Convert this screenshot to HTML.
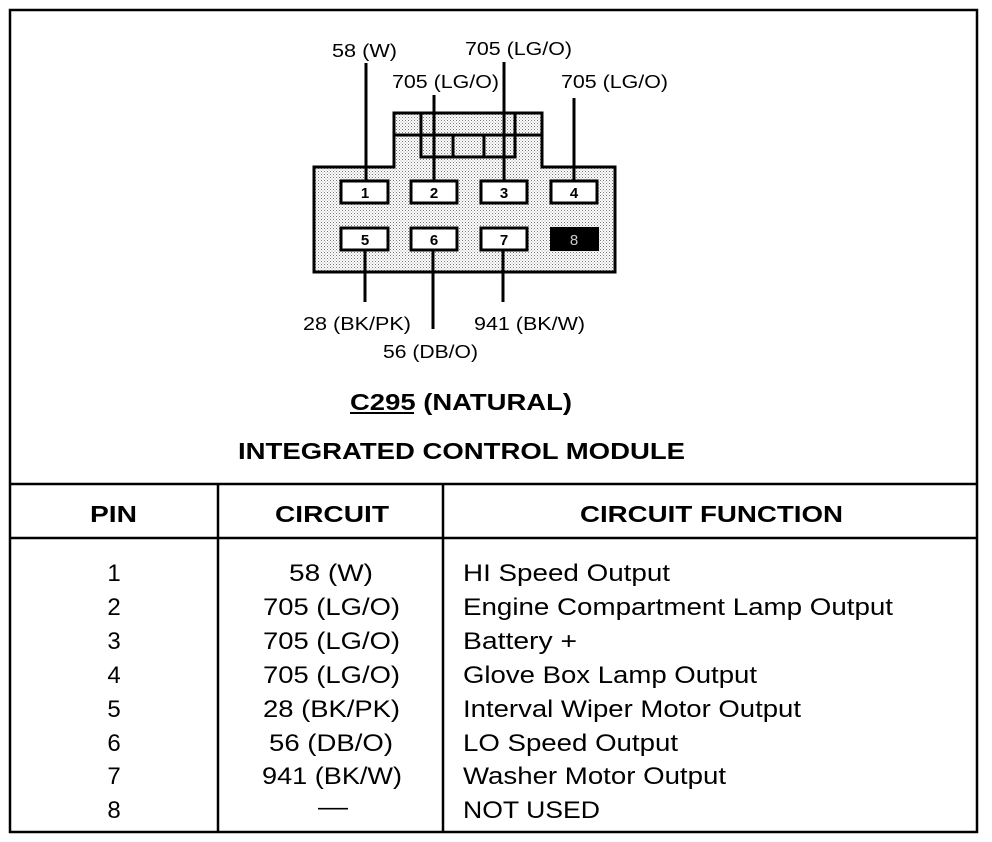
<!DOCTYPE html>
<html><head><meta charset="utf-8"><style>
html,body{margin:0;padding:0;background:#fff}
svg{display:block}
text{font-family:"Liberation Sans",Arial,sans-serif;fill:#000}
</style></head><body>
<svg width="992" height="842" viewBox="0 0 992 842" xmlns="http://www.w3.org/2000/svg">
<defs>
<pattern id="dots" width="3" height="3" patternUnits="userSpaceOnUse">
<rect width="3" height="3" fill="#fff"/><rect width="1" height="1" fill="#777"/><rect x="1.5" y="1.5" width="1" height="1" fill="#999"/>
</pattern>
</defs>
<rect x="10" y="10" width="967" height="822" fill="none" stroke="#000" stroke-width="2.5"/>
<path d="M314,167 H394 V113 H542 V167 H615 V272 H314 Z" fill="url(#dots)" stroke="#000" stroke-width="3"/>
<line x1="394" y1="135" x2="542" y2="135" stroke="#000" stroke-width="3"/>
<rect x="421" y="135" width="94" height="22" fill="url(#dots)" stroke="#000" stroke-width="3"/>
<line x1="421" y1="113" x2="421" y2="135" stroke="#000" stroke-width="3"/>
<line x1="515" y1="113" x2="515" y2="135" stroke="#000" stroke-width="3"/>
<line x1="453" y1="135" x2="453" y2="157" stroke="#000" stroke-width="3"/>
<line x1="484" y1="135" x2="484" y2="157" stroke="#000" stroke-width="3"/>
<g stroke="#000" stroke-width="3" fill="#fff">
<rect x="341" y="181" width="47" height="22"/><rect x="411" y="181" width="46" height="22"/><rect x="481" y="181" width="46" height="22"/><rect x="551" y="181" width="46" height="22"/>
<rect x="341" y="228" width="47" height="22"/><rect x="411" y="228" width="46" height="22"/><rect x="481" y="228" width="46" height="22"/>
</g>
<rect x="550" y="227" width="49" height="24" fill="#000"/>
<g stroke="#000" stroke-width="3">
<line x1="366" y1="63" x2="366" y2="180"/><line x1="434" y1="95" x2="434" y2="180"/><line x1="504" y1="62" x2="504" y2="180"/><line x1="574" y1="98" x2="574" y2="180"/>
<line x1="365" y1="251" x2="365" y2="302"/><line x1="433" y1="251" x2="433" y2="329"/><line x1="503" y1="251" x2="503" y2="302"/>
</g>
<g font-size="15" text-anchor="middle" font-weight="bold">
<text x="365" y="198">1</text><text x="434" y="198">2</text><text x="504" y="198">3</text><text x="574" y="198">4</text>
<text x="365" y="245">5</text><text x="434" y="245">6</text><text x="504" y="245">7</text><text x="574" y="245" style="fill:#ccc" font-weight="normal">8</text>
</g>
<g font-size="18">
<text x="332" y="57" textLength="65" lengthAdjust="spacingAndGlyphs">58 (W)</text>
<text x="465" y="55" textLength="107" lengthAdjust="spacingAndGlyphs">705 (LG/O)</text>
<text x="392" y="88" textLength="107" lengthAdjust="spacingAndGlyphs">705 (LG/O)</text>
<text x="561" y="88" textLength="107" lengthAdjust="spacingAndGlyphs">705 (LG/O)</text>
<text x="303" y="330" textLength="108" lengthAdjust="spacingAndGlyphs">28 (BK/PK)</text>
<text x="474" y="330" textLength="111" lengthAdjust="spacingAndGlyphs">941 (BK/W)</text>
<text x="383" y="358" textLength="95" lengthAdjust="spacingAndGlyphs">56 (DB/O)</text>
</g>
<g font-size="23" font-weight="bold">
<text x="350" y="410" textLength="222" lengthAdjust="spacingAndGlyphs">C295 (NATURAL)</text>
<line x1="350" y1="413" x2="414" y2="413" stroke="#000" stroke-width="2"/>
<text x="238" y="459" textLength="447" lengthAdjust="spacingAndGlyphs">INTEGRATED CONTROL MODULE</text>
<text x="90" y="522" textLength="47" lengthAdjust="spacingAndGlyphs">PIN</text>
<text x="275" y="522" textLength="114" lengthAdjust="spacingAndGlyphs">CIRCUIT</text>
<text x="580" y="522" textLength="263" lengthAdjust="spacingAndGlyphs">CIRCUIT FUNCTION</text>
</g>
<g stroke="#000" stroke-width="2.5">
<line x1="10" y1="484" x2="977" y2="484"/>
<line x1="10" y1="538" x2="977" y2="538"/>
<line x1="218" y1="484" x2="218" y2="832"/>
<line x1="443" y1="484" x2="443" y2="832"/>
</g>
<g font-size="24">
<g text-anchor="middle">
<text x="114" y="581">1</text><text x="114" y="615">2</text><text x="114" y="649">3</text><text x="114" y="683">4</text><text x="114" y="717">5</text><text x="114" y="751">6</text><text x="114" y="784">7</text><text x="114" y="818">8</text>
</g>
<text x="289" y="581" textLength="84" lengthAdjust="spacingAndGlyphs">58 (W)</text>
<text x="263" y="615" textLength="137" lengthAdjust="spacingAndGlyphs">705 (LG/O)</text>
<text x="263" y="649" textLength="137" lengthAdjust="spacingAndGlyphs">705 (LG/O)</text>
<text x="263" y="683" textLength="137" lengthAdjust="spacingAndGlyphs">705 (LG/O)</text>
<text x="263" y="717" textLength="137" lengthAdjust="spacingAndGlyphs">28 (BK/PK)</text>
<text x="269" y="751" textLength="124" lengthAdjust="spacingAndGlyphs">56 (DB/O)</text>
<text x="262" y="784" textLength="140" lengthAdjust="spacingAndGlyphs">941 (BK/W)</text>
<text x="318" y="815" textLength="30" lengthAdjust="spacingAndGlyphs">—</text>
<text x="463" y="581" textLength="207" lengthAdjust="spacingAndGlyphs">HI Speed Output</text>
<text x="463" y="615" textLength="430" lengthAdjust="spacingAndGlyphs">Engine Compartment Lamp Output</text>
<text x="463" y="649" textLength="114" lengthAdjust="spacingAndGlyphs">Battery +</text>
<text x="463" y="683" textLength="294" lengthAdjust="spacingAndGlyphs">Glove Box Lamp Output</text>
<text x="463" y="717" textLength="338" lengthAdjust="spacingAndGlyphs">Interval Wiper Motor Output</text>
<text x="463" y="751" textLength="215" lengthAdjust="spacingAndGlyphs">LO Speed Output</text>
<text x="463" y="784" textLength="263" lengthAdjust="spacingAndGlyphs">Washer Motor Output</text>
<text x="463" y="818" textLength="137" lengthAdjust="spacingAndGlyphs">NOT USED</text>
</g>
</svg>
</body></html>
